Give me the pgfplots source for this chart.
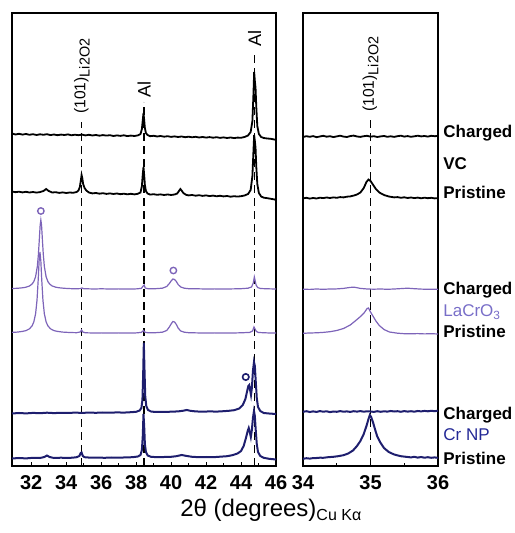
\documentclass[border=0pt]{standalone}
\usepackage{pgfplots}
\pgfplotsset{compat=1.18}
\usepackage{fontspec}
\setmainfont{Liberation Sans}
\definecolor{cpurple}{RGB}{125,100,185}
\definecolor{lpurple}{RGB}{120,110,200}
\definecolor{cnavy}{RGB}{30,30,110}
\definecolor{lblue}{RGB}{35,40,150}
\pgfplotsset{
  myax/.style={
    scale only axis, height=226.5pt, ymin=0, ymax=453,
    ytick=\empty, xtick pos=left, tick align=inside,
    major tick length=2.2pt, minor tick length=1.7pt,
    minor x tick num=1, axis line style={line width=0.6pt},
    every tick/.style={line width=0.5pt, black},
    /pgf/number format/assume math mode=true,
    xticklabel style={font=\fontsize{10}{12}\selectfont\bfseries, yshift=-1.3pt},
    clip=false,
  },
  blk/.style={black, line width=0.9pt},
  pur/.style={cpurple, line width=0.6pt},
  nav/.style={cnavy, line width=1pt},
  dsh/.style={black, line width=0.55pt, dash pattern=on 4pt off 2.5pt},
}
\newcommand{\lab}{\fontsize{8.5}{10}\selectfont}
\newcommand{\lit}{(101)\raisebox{-0.28em}{\fontsize{7.2}{8}\selectfont Li2O2}}
\begin{document}
\begin{tikzpicture}
\path[use as bounding box] (-6pt,-33.5pt) rectangle (251pt,233pt);
\begin{axis}[myax, at={(0pt,0pt)}, width=132pt, xmin=30.9, xmax=46, xtick={32,34,...,46}]
% dashed reference lines
\addplot[dsh] coordinates {(34.9,0) (34.9,344)};
\addplot[dsh] coordinates {(38.45,0) (38.45,364)};
\addplot[dsh] coordinates {(44.78,0) (44.78,414)};
\node[rotate=90, anchor=west, inner sep=1pt, font=\fontsize{7.8}{9}\selectfont] at (axis cs:34.9,350) {\lit};
\node[rotate=90, anchor=west, inner sep=1pt, font=\fontsize{9}{10}\selectfont] at (axis cs:38.45,366) {Al};
\node[rotate=90, anchor=west, inner sep=1pt, font=\fontsize{9}{10}\selectfont] at (axis cs:44.78,417) {Al};
% VC charged
\addplot[blk] coordinates {(30.9,332.5) (31.1,331.5) (31.3,332.2) (31.5,331.4) (31.7,332) (31.9,331.2) (32.1,331.8) (32.3,331) (32.5,331.7) (32.7,331.2) (32.9,331.8) (33.1,330.9) (33.3,331.5) (33.5,330.8) (33.7,331.4) (33.9,331) (34.1,331.6) (34.3,330.7) (34.5,331.3) (34.7,330.8) (34.9,331.4) (35.1,330.6) (35.3,331.2) (35.5,330.5) (35.7,331) (35.9,330.3) (36.1,330.9) (36.3,330.4) (36.5,330.8) (36.7,330) (36.9,330.6) (37.1,330.1) (37.3,330.7) (37.5,329.9) (37.7,330.4) (37.9,330) (38.1,330.6) (38.25,332) (38.33,337) (38.38,346) (38.42,353) (38.46,346) (38.5,338) (38.56,333) (38.65,331) (38.8,329.8) (39.0,330.2) (39.2,329.5) (39.4,330) (39.6,329.3) (39.8,329.8) (40.0,329.1) (40.2,329.6) (40.4,329) (40.6,329.5) (40.8,328.8) (41.0,329.3) (41.2,328.7) (41.4,329.2) (41.6,328.5) (41.8,329) (42.0,328.4) (42.2,328.9) (42.4,328.3) (42.6,328.8) (42.8,328.1) (43.0,328.6) (43.2,328) (43.4,328.5) (43.6,327.9) (43.8,328.4) (44.0,328.2) (44.2,329) (44.4,330.5) (44.55,334) (44.65,345) (44.71,372) (44.75,394) (44.79,385) (44.83,378) (44.87,360) (44.93,340) (45.02,332) (45.15,329) (45.3,328) (45.5,327.5) (45.7,327.2) (45.9,326.5) (46.0,326)};
% VC pristine
\addplot[blk] coordinates {(30.9,274.5) (31.1,273.8) (31.3,274.3) (31.5,273.6) (31.7,274.2) (31.9,273.5) (32.1,274) (32.3,273.4) (32.5,273.9) (32.7,275) (32.85,277) (33.0,275) (33.2,273.5) (33.4,273.8) (33.6,273.1) (33.8,273.6) (34.0,273) (34.2,273.5) (34.4,273.2) (34.6,274) (34.7,275.5) (34.78,279) (34.84,286) (34.88,291) (34.92,288) (34.97,282) (35.05,278) (35.15,275.5) (35.3,273.5) (35.5,272.6) (35.7,273) (35.9,272.3) (36.1,272.8) (36.3,272.1) (36.5,272.6) (36.7,272) (36.9,272.5) (37.1,271.8) (37.3,272.3) (37.5,271.7) (37.7,272.2) (37.9,271.6) (38.1,272.2) (38.25,273.5) (38.33,280) (38.38,292) (38.42,299) (38.46,291) (38.5,281) (38.56,275) (38.65,272.5) (38.8,271.4) (39.0,271.8) (39.2,271.2) (39.4,271.6) (39.6,271) (39.8,271.5) (40.0,271) (40.2,271.5) (40.35,272.5) (40.45,275) (40.53,277) (40.6,275.5) (40.7,273) (40.85,271.2) (41.0,270.6) (41.2,271) (41.4,270.3) (41.6,270.8) (41.8,270.1) (42.0,270.6) (42.2,269.9) (42.4,270.4) (42.6,269.7) (42.8,270.2) (43.0,269.6) (43.2,270) (43.4,269.3) (43.6,269.8) (43.8,269.4) (44.0,269.8) (44.2,270.5) (44.4,272) (44.55,276) (44.65,290) (44.71,315) (44.75,331) (44.79,325) (44.83,318) (44.87,300) (44.93,282) (45.02,273) (45.15,269.5) (45.3,268.3) (45.5,267.8) (45.7,267.2) (45.9,266.6) (46.0,266)};
% LaCrO3 charged
\addplot[pur] coordinates {(30.9,177.5) (31.2,177.7) (31.5,178.2) (31.7,178.8) (31.9,180) (32.05,182) (32.15,184.5) (32.25,189.3) (32.35,199.7) (32.41,211.5) (32.46,225.8) (32.51,240.8) (32.55,246) (32.59,240.8) (32.64,225.8) (32.69,211.5) (32.75,199.7) (32.85,189.3) (32.95,184.5) (33.05,182) (33.2,180) (33.4,178.8) (33.6,178.2) (33.9,177.7) (34.2,177.4) (34.5,177.2) (34.8,177.4) (34.9,178) (35.0,177.3) (35.2,177.2) (35.6,177) (36.0,177.2) (36.5,177) (37.0,177.1) (37.5,177) (38.0,177.1) (38.3,177.6) (38.4,180) (38.46,181) (38.52,178) (38.7,177.2) (39.1,177.3) (39.5,177.8) (39.75,179.5) (39.9,182.5) (40.0,185) (40.1,187) (40.2,186.5) (40.3,184.5) (40.4,181.5) (40.55,179) (40.75,177.8) (41.0,177.3) (41.5,177.2) (42.0,177) (42.5,177.1) (43.0,177) (43.5,177.1) (44.0,177.3) (44.4,177.8) (44.6,179) (44.7,183) (44.76,189) (44.8,186) (44.86,181) (44.95,178.5) (45.1,177.5) (45.5,177.2) (46.0,177)};
% LaCrO3 pristine
\addplot[pur] coordinates {(30.9,133.6) (31.2,133.9) (31.5,134.6) (31.7,135.4) (31.9,137.2) (32.05,140.2) (32.15,144.2) (32.25,152.3) (32.33,165.7) (32.4,186.6) (32.45,204.8) (32.5,214) (32.55,204.8) (32.6,186.6) (32.67,165.7) (32.75,152.3) (32.85,144.2) (32.95,140.2) (33.1,137.2) (33.3,135.4) (33.5,134.6) (33.8,133.9) (34.2,133.5) (34.6,133.3) (34.8,134) (34.88,136) (34.95,134) (35.1,133.2) (35.6,133) (36.0,133.1) (36.5,133) (37.0,133.1) (37.5,133) (38.0,133.1) (38.3,133.6) (38.42,135.5) (38.5,133.8) (38.7,133.2) (39.1,133.3) (39.5,133.8) (39.75,135.5) (39.9,139) (40.0,142) (40.1,144.5) (40.2,144) (40.3,141.5) (40.4,138) (40.55,135) (40.75,133.8) (41.0,133.3) (41.5,133.1) (42.0,133) (42.5,133.1) (43.0,133) (43.5,133) (44.0,133.2) (44.5,133.6) (44.66,135) (44.74,139) (44.8,137) (44.88,134.5) (45.0,133.5) (45.5,133.1) (46.0,133)};
% Cr NP charged
\addplot[nav] coordinates {(30.9,52.5) (31.3,53) (31.7,52.6) (32.1,53.1) (32.5,52.8) (32.9,53.3) (33.3,52.9) (33.7,53.2) (34.1,53) (34.5,53.4) (34.9,53.1) (35.3,53.4) (35.7,53.2) (36.1,53.5) (36.5,53.3) (36.9,53.6) (37.3,53.4) (37.7,53.8) (38.0,54.2) (38.2,55.5) (38.3,58) (38.36,66) (38.4,90) (38.44,123) (38.48,95) (38.52,70) (38.58,60) (38.68,56) (38.85,54.5) (39.1,54) (39.5,54) (40.0,54.3) (40.4,54.6) (40.7,55.3) (40.9,56) (41.1,55.2) (41.4,54.6) (41.8,54.3) (42.2,54.6) (42.6,54.4) (43.0,54.8) (43.3,55.2) (43.6,55.8) (43.9,57.5) (44.1,61) (44.25,67) (44.35,75) (44.42,80) (44.47,81) (44.52,76) (44.57,71) (44.62,78) (44.68,95) (44.74,104) (44.79,100) (44.84,85) (44.9,68) (44.97,59) (45.1,55) (45.3,53) (45.6,52.5) (46.0,52)};
% Cr NP pristine
\addplot[nav] coordinates {(30.9,7.5) (31.3,8) (31.7,7.6) (32.1,8.2) (32.5,8) (32.75,9) (32.9,10.5) (33.05,9) (33.3,8) (33.7,8.3) (34.1,8) (34.4,8.4) (34.6,8.8) (34.75,10) (34.83,13) (34.88,13.5) (34.95,10) (35.05,8.8) (35.4,8.3) (35.8,8.4) (36.2,8.2) (36.6,8.5) (37.0,8.3) (37.4,8.6) (37.8,8.8) (38.1,9.5) (38.25,11) (38.33,16) (38.38,30) (38.42,52) (38.46,40) (38.5,22) (38.56,14) (38.66,10.5) (38.85,9.2) (39.2,8.8) (39.6,9) (40.0,9.2) (40.3,9.8) (40.6,11) (40.9,10) (41.2,9.2) (41.6,8.8) (42.0,9) (42.4,8.8) (42.8,9.3) (43.2,9.8) (43.5,10.8) (43.8,12.5) (44.0,15) (44.15,20) (44.28,28) (44.38,35) (44.44,38) (44.5,34) (44.56,29) (44.62,36) (44.68,48) (44.74,55) (44.79,50) (44.84,36) (44.9,22) (44.97,14) (45.1,10) (45.3,8.2) (45.6,7.2) (46.0,6.5)};
% circle markers
\addplot[only marks, mark=o, mark size=1.6pt, cpurple, mark options={line width=0.7pt}] coordinates {(32.55,255) (40.13,195.5)};
\addplot[only marks, mark=o, mark size=1.6pt, cnavy, mark options={line width=0.8pt}] coordinates {(44.27,89)};
\end{axis}

\begin{axis}[myax, at={(145.5pt,0pt)}, width=67.5pt, xmin=34, xmax=36, xtick={34,35,36}]
\addplot[dsh] coordinates {(35,0) (35,346)};
\node[rotate=90, anchor=west, inner sep=1pt, font=\fontsize{7.8}{9}\selectfont] at (axis cs:35,352) {\lit};
% VC charged
\addplot[blk] coordinates {(34.0,329) (34.05,329.8) (34.1,329.2) (34.15,329.9) (34.2,328.8) (34.25,329.5) (34.3,330.2) (34.35,329.3) (34.4,329.8) (34.45,328.9) (34.5,329.6) (34.55,330.3) (34.6,329.4) (34.65,329) (34.7,329.9) (34.75,330.4) (34.8,329.5) (34.85,329.1) (34.9,329.8) (34.95,330.2) (35.0,329.3) (35.05,329.8) (35.1,329) (35.15,329.6) (35.2,330) (35.25,329.2) (35.3,329.7) (35.35,329.1) (35.4,329.8) (35.45,330.3) (35.5,329.4) (35.55,329.9) (35.6,329.2) (35.65,329.7) (35.7,330.3) (35.75,329.6) (35.8,330) (35.85,329.4) (35.9,330.2) (35.95,329.8) (36.0,330)};
% VC pristine
\addplot[blk] coordinates {(34.0,267.6) (34.05,268.2) (34.1,267.4) (34.15,268) (34.2,267.5) (34.25,268.3) (34.3,267.9) (34.35,268.5) (34.4,268) (34.45,268.6) (34.5,268.2) (34.55,268.9) (34.6,268.6) (34.65,269.3) (34.7,269.6) (34.75,270.4) (34.8,271.5) (34.85,273.5) (34.9,278) (34.94,284) (34.97,286.5) (35.0,285) (35.04,281) (35.08,277) (35.13,273.5) (35.2,271) (35.27,269.5) (35.35,268.6) (35.4,268.9) (35.45,268.2) (35.5,268.7) (35.55,268) (35.6,268.5) (35.65,267.9) (35.7,268.4) (35.75,267.7) (35.8,268.3) (35.85,267.8) (35.9,268.2) (35.95,267.6) (36.0,267.9)};
% LaCrO3 charged
\addplot[pur] coordinates {(34.0,176.8) (34.1,176.6) (34.2,177) (34.3,176.7) (34.4,177) (34.5,177.1) (34.6,177.6) (34.7,178.6) (34.76,178.8) (34.85,177.6) (34.95,177) (35.05,176.8) (35.15,177) (35.25,176.7) (35.35,177) (35.45,177.4) (35.55,177.8) (35.65,177.3) (35.75,176.9) (35.85,176.7) (35.95,176.8) (36.0,176.6)};
% LaCrO3 pristine
\addplot[pur] coordinates {(34.0,132.7) (34.1,133) (34.2,133.2) (34.3,133.6) (34.4,134.3) (34.5,135.5) (34.6,137.5) (34.7,141) (34.8,146.5) (34.86,150) (34.91,153.5) (34.95,157.5) (34.97,158) (35.0,154) (35.04,149.5) (35.08,145) (35.13,140.5) (35.2,136.5) (35.28,134) (35.4,132.8) (35.5,132.3) (35.6,132.2) (35.7,132.4) (35.8,132.1) (35.9,132.3) (36.0,132)};
% Cr NP charged
\addplot[nav] coordinates {(34.0,54.2) (34.05,54.8) (34.1,54) (34.15,54.6) (34.2,54.1) (34.25,54.9) (34.3,54.3) (34.35,54.7) (34.4,53.9) (34.45,54.5) (34.5,54.2) (34.55,54.9) (34.6,54.3) (34.65,54.6) (34.7,54.1) (34.75,54.8) (34.8,54.4) (34.85,54.9) (34.9,54.3) (34.95,54.7) (35.0,54.5) (35.05,54.1) (35.1,54.8) (35.15,54.2) (35.2,54.7) (35.25,54.4) (35.3,55) (35.35,54.5) (35.4,54.8) (35.45,54.2) (35.5,54.9) (35.55,54.4) (35.6,54.8) (35.65,54.3) (35.7,55) (35.75,54.6) (35.8,55.1) (35.85,54.7) (35.9,55.2) (35.95,54.8) (36.0,55.3)};
% Cr NP pristine
\addplot[nav] coordinates {(34.0,7.2) (34.05,7.8) (34.1,7.4) (34.15,7.9) (34.2,8) (34.25,8.3) (34.3,8.2) (34.37,8.8) (34.45,9.2) (34.52,9.8) (34.6,10.8) (34.67,12.5) (34.74,15.5) (34.8,20) (34.85,25) (34.9,32) (34.94,40) (34.97,47) (34.99,51) (35.01,49) (35.04,43) (35.07,36) (35.1,29.5) (35.15,23) (35.2,18) (35.27,14) (35.35,11.5) (35.45,9.8) (35.55,9) (35.6,8.6) (35.65,9.2) (35.7,8.4) (35.75,9) (35.8,8.3) (35.85,8.8) (35.9,8.2) (35.95,8.6) (36.0,8.1)};
% side labels
\node[anchor=west, font=\lab\bfseries, inner sep=0pt, xshift=2.5pt] at (axis cs:36,333) {Charged};
\node[anchor=west, font=\lab\bfseries, inner sep=0pt, xshift=2.5pt] at (axis cs:36,302) {VC};
\node[anchor=west, font=\lab\bfseries, inner sep=0pt, xshift=2.5pt] at (axis cs:36,274) {Pristine};
\node[anchor=west, font=\lab\bfseries, inner sep=0pt, xshift=2.5pt] at (axis cs:36,176) {Charged};
\node[anchor=west, font=\lab, text=lpurple, inner sep=0pt, xshift=2.5pt] at (axis cs:36,154) {LaCrO\textsubscript{3}};
\node[anchor=west, font=\lab\bfseries, inner sep=0pt, xshift=2.5pt] at (axis cs:36,135) {Pristine};
\node[anchor=west, font=\lab\bfseries, inner sep=0pt, xshift=2.5pt] at (axis cs:36,51) {Charged};
\node[anchor=west, font=\lab, text=lblue, inner sep=0pt, xshift=2.5pt] at (axis cs:36,31) {Cr NP};
\node[anchor=west, font=\lab\bfseries, inner sep=0pt, xshift=2.5pt] at (axis cs:36,8) {Pristine};
\end{axis}
\node[anchor=base west, inner sep=0pt, font=\fontsize{12}{14}\selectfont] at (84pt,-25.3pt) {2θ (degrees)\textsubscript{Cu Kα}};
\end{tikzpicture}
\end{document}
